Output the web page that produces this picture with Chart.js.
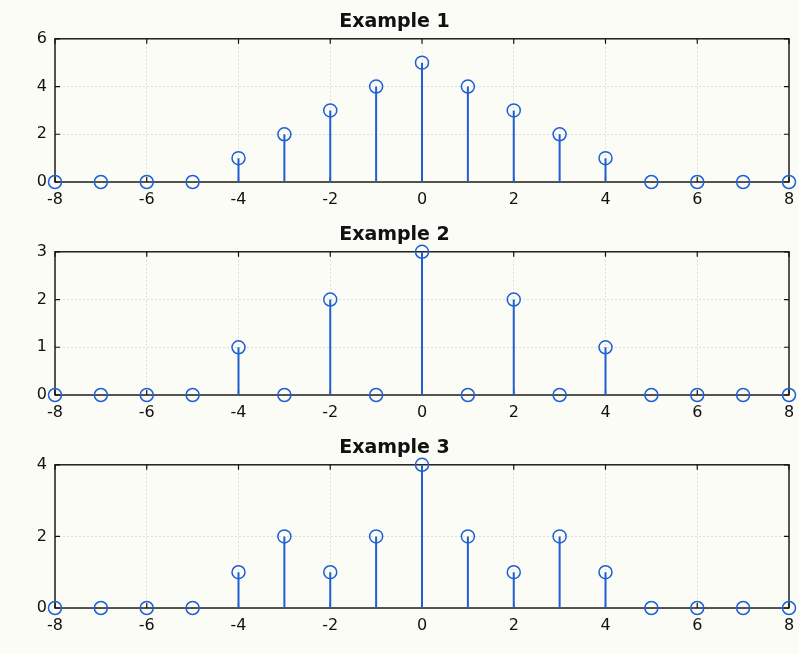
<!DOCTYPE html>
<html>
<head>
<meta charset="utf-8">
<script src="https://cdn.jsdelivr.net/npm/chart.js@4.4.1/dist/chart.umd.min.js"></script>
<style>
  body { margin: 0; background: #fcfcf7; }
  .plot { position: absolute; left: 0; }
</style>
</head>
<body>
<canvas class="plot" id="ex1" width="799" height="213" style="top:0"></canvas>
<canvas class="plot" id="ex2" width="799" height="213" style="top:213px"></canvas>
<canvas class="plot" id="ex3" width="799" height="228" style="top:426px"></canvas>
<script>
// sample index and the three sequences
const n = [-8, -7, -6, -5, -4, -3, -2, -1, 0, 1, 2, 3, 4, 5, 6, 7, 8];
const example1 = [0, 0, 0, 0, 1, 2, 3, 4, 5, 4, 3, 2, 1, 0, 0, 0, 0];
const example2 = [0, 0, 0, 0, 1, 0, 2, 0, 3, 0, 2, 0, 1, 0, 0, 0, 0];
const example3 = [0, 0, 0, 0, 1, 2, 1, 2, 4, 2, 1, 2, 1, 0, 0, 0, 0];
const titles = ['Example 1', 'Example 2', 'Example 3'];
const yMax = [6, 3, 4];
const yStep = [2, 1, 2];

const blue = '#1f5fd2';
const ink = '#111';

// box round the axes plus inward tick marks on every side
const frame = {
    id: 'frame',
    beforeDatasetsDraw(chart) {
        const { ctx, chartArea: a, scales: { x, y } } = chart;
        ctx.save();
        ctx.strokeStyle = ink;
        ctx.lineWidth = 1.4;
        ctx.strokeRect(a.left, a.top, a.right - a.left, a.bottom - a.top);
        ctx.lineWidth = 1.2;
        ctx.beginPath();
        x.ticks.forEach(t => {
            const px = x.getPixelForValue(t.value);
            ctx.moveTo(px, a.bottom); ctx.lineTo(px, a.bottom - 5);
            ctx.moveTo(px, a.top); ctx.lineTo(px, a.top + 5);
        });
        y.ticks.forEach(t => {
            const py = y.getPixelForValue(t.value);
            ctx.moveTo(a.left, py); ctx.lineTo(a.left + 5, py);
            ctx.moveTo(a.right, py); ctx.lineTo(a.right - 5, py);
        });
        ctx.stroke();
        ctx.restore();
    }
};

function stems(vals) {
    const pts = [];
    n.forEach((x, i) => {
        pts.push({ x: x, y: 0 }, { x: x, y: vals[i] }, { x: x, y: null });
    });
    return pts;
}

function stemPlot(id, vals, k) {
    const ctx = document.getElementById(id).getContext('2d');
    return new Chart(ctx, {
        type: 'scatter',
        data: {
            datasets: [
                {
                    data: n.map((x, i) => ({ x: x, y: vals[i] })),
                    borderColor: blue,
                    backgroundColor: 'transparent',
                    borderWidth: 1.5,
                    pointRadius: 6.5,
                    pointHoverRadius: 6.5,
                    showLine: false,
                    clip: false,
                    order: 1,
                },
                {
                    data: stems(vals),
                    borderColor: blue,
                    borderWidth: 2,
                    pointRadius: 0,
                    showLine: true,
                    spanGaps: false,
                    clip: false,
                    order: 2,
                },
            ]
        },
        plugins: [frame],
        options: {
            responsive: false,
            animation: false,
            layout: { padding: { left: 0, right: 10, top: 0, bottom: k == 2 ? 15 : 0 } },
            plugins: {
                legend: { display: false },
                tooltip: { enabled: false },
                title: {
                    display: true,
                    text: titles[k],
                    color: ink,
                    font: { family: 'DejaVu Sans', size: 19, weight: 'bold', lineHeight: 1.2 },
                    padding: { top: 11, bottom: 5 },
                },
            },
            scales: {
                x: {
                    type: 'linear',
                    min: -8,
                    max: 8,
                    afterFit(s) { s.height = 31; s.paddingLeft = 0; s.paddingRight = 0; },
                    ticks: {
                        stepSize: 2,
                        padding: 8,
                        color: ink,
                        font: { family: 'DejaVu Sans', size: 16 },
                    },
                    grid: { color: '#dedede', drawTicks: false },
                    border: { display: false, dash: [2, 2] },
                },
                y: {
                    min: 0,
                    max: yMax[k],
                    afterFit(s) { s.width = 55; },
                    ticks: {
                        stepSize: yStep[k],
                        padding: 8,
                        color: ink,
                        font: { family: 'DejaVu Sans', size: 16 },
                    },
                    grid: { color: '#dedede', drawTicks: false },
                    border: { display: false, dash: [2, 2] },
                },
            }
        }
    });
}

stemPlot('ex1', example1, 0);
stemPlot('ex2', example2, 1);
stemPlot('ex3', example3, 2);
</script>
</body>
</html>
